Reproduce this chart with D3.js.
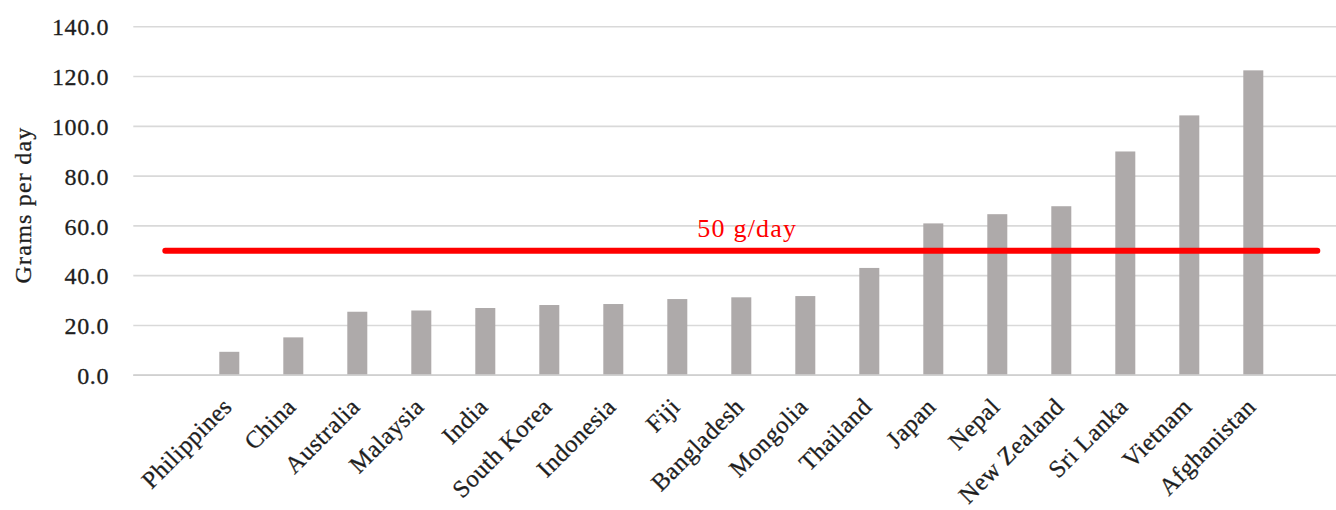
<!DOCTYPE html>
<html>
<head>
<meta charset="utf-8">
<script src="https://cdn.jsdelivr.net/npm/d3@7"></script>
<style>
  html, body { margin: 0; padding: 0; background: #fff; }
  svg { display: block; }
  text { font-family: "Liberation Serif", "Times New Roman", serif; }
</style>
</head>
<body>
<svg id="chart" width="1336" height="510"></svg>
<script>
// Daily intake (grams per day) by country
const categories = ["Philippines", "China", "Australia", "Malaysia", "India", "South Korea",
  "Indonesia", "Fiji", "Bangladesh", "Mongolia", "Thailand", "Japan", "Nepal",
  "New Zealand", "Sri Lanka", "Vietnam", "Afghanistan"];
const values = [9.4, 15.2, 25.5, 26.0, 27.0, 28.2, 28.6, 30.6, 31.3, 31.8, 43.1,
  61.0, 64.7, 67.9, 89.9, 104.4, 122.5];
const yTicks = [0, 20, 40, 60, 80, 100, 120, 140];
const limitValue = 50;
const limitLabel = "50 g/day";
const yTitle = "Grams per day";

const svg = d3.select("#chart");

const plotLeft = 133.3;
const step = 64;
const plotRight = plotLeft + step * (categories.length + 2);

// one empty slot on each side of the categories
const x = d3.scaleBand()
  .domain(categories)
  .range([plotLeft + step, plotLeft + step * (categories.length + 1)])
  .paddingInner(0.6875)
  .paddingOuter(0.34375);

const y = d3.scaleLinear().domain([0, 140]).range([375.2, 26.8]);

const textColor = "#1e1e1e";

// gridlines
svg.append("g")
  .selectAll("line")
  .data(yTicks)
  .join("line")
  .attr("x1", plotLeft)
  .attr("x2", plotRight)
  .attr("y1", d => y(d))
  .attr("y2", d => y(d))
  .attr("stroke", "#d9d9d9")
  .attr("stroke-width", 1.6);

// y tick labels
const yAxis = d3.axisLeft(y).tickValues(yTicks).tickFormat(d3.format(".1f")).tickSize(0).tickPadding(0);
const gy = svg.append("g").attr("transform", "translate(109,0)").call(yAxis);
gy.select(".domain").remove();
gy.selectAll("text")
  .attr("font-family", "Liberation Serif, serif")
  .attr("font-size", 24)
  .attr("fill", textColor)
  .attr("stroke", textColor)
  .attr("stroke-width", 0.3)
  .attr("dy", "0.34em")
  .attr("text-anchor", "end")
  .style("letter-spacing", "0.6px");

// y title
svg.append("text")
  .attr("transform", `translate(31,${(y(0) + y(140)) / 2 + 4}) rotate(-90)`)
  .attr("text-anchor", "middle")
  .attr("font-size", 24)
  .attr("fill", textColor)
  .attr("stroke", textColor)
  .attr("stroke-width", 0.3)
  .style("letter-spacing", "1.2px")
  .text(yTitle);

// bars
svg.append("g")
  .selectAll("rect")
  .data(values)
  .join("rect")
  .attr("x", (d, i) => x(categories[i]))
  .attr("width", x.bandwidth())
  .attr("y", d => y(d))
  .attr("height", d => y(0) - y(d))
  .attr("fill", "#aeaaaa");

// baseline
svg.append("line")
  .attr("x1", plotLeft).attr("x2", plotRight)
  .attr("y1", y(0)).attr("y2", y(0))
  .attr("stroke", "#d0d0d0").attr("stroke-width", 1.8);

// category labels
const gx = svg.append("g").attr("transform", `translate(0,${y(0)})`)
  .call(d3.axisBottom(x).tickSize(0).tickPadding(0));
gx.select(".domain").remove();
gx.selectAll(".tick text")
  .attr("font-family", "Liberation Serif, serif")
  .attr("font-size", 24.5)
  .attr("fill", textColor)
  .attr("stroke", textColor)
  .attr("stroke-width", 0.3)
  .attr("text-anchor", "end")
  .attr("dy", 0)
  .attr("y", 0)
  .style("letter-spacing", "0.5px")
  .attr("transform", "translate(4,33) rotate(-45)");

// limit line across the padded slots
const firstCenter = x(categories[0]) + x.bandwidth() / 2 - step;
const lastCenter = x(categories[categories.length - 1]) + x.bandwidth() / 2 + step;
svg.append("line")
  .attr("x1", firstCenter).attr("x2", lastCenter)
  .attr("y1", y(limitValue)).attr("y2", y(limitValue))
  .attr("stroke", "#ff0000")
  .attr("stroke-width", 6)
  .attr("stroke-linecap", "round");

svg.append("text")
  .attr("x", (firstCenter + lastCenter) / 2 + 6)
  .attr("y", y(limitValue) - 14)
  .attr("text-anchor", "middle")
  .attr("font-size", 26)
  .attr("fill", "#ff0000")
  .style("letter-spacing", "1.2px")
  .text(limitLabel);
</script>
</body>
</html>
